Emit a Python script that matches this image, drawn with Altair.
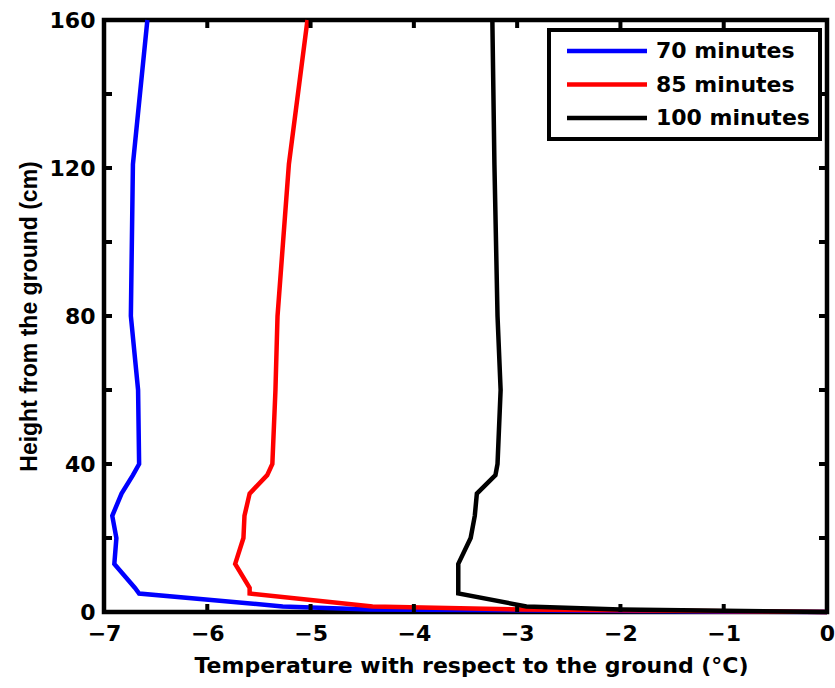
import altair as alt
import pandas as pd

# Vertical temperature profiles measured above the ground surface
heights = [0, 0.7, 1.5, 5, 6.5, 13, 20, 26, 32, 37, 40, 60, 80, 121, 160]
temp_70 = [0, -4.43, -5.27, -6.66, -6.70, -6.90, -6.88, -6.92, -6.83, -6.72, -6.66, -6.67, -6.74, -6.72, -6.58]
temp_85 = [0, -2.97, -4.40, -5.59, -5.59, -5.73, -5.65, -5.64, -5.59, -5.42, -5.37, -5.34, -5.32, -5.21, -5.03]
temp_100 = [0, -2.00, -2.91, -3.57, -3.57, -3.57, -3.45, -3.41, -3.39, -3.21, -3.19, -3.16, -3.19, -3.22, -3.24]

series_names = ["70 minutes", "85 minutes", "100 minutes"]
series_colors = ["#0000ff", "#ff0000", "#000000"]

x_ticks = [-7, -6, -5, -4, -3, -2, -1, 0]
y_ticks = [0, 20, 40, 60, 80, 100, 120, 140, 160]
y_labels = [0, 40, 80, 120, 160]

FONT = "DejaVu Sans"
FONT_V = "Liberation Sans"
FS = 22
W, H = 723, 592
TICK_LEN = 8

rows = []
for name, temps in zip(series_names, [temp_70, temp_85, temp_100]):
    for h, t in zip(heights, temps):
        rows.append({"series": name, "temp": t, "height": h})
profiles = pd.DataFrame(rows)

x_scale = alt.Scale(domain=[-7, 0], nice=False, zero=False)
y_scale = alt.Scale(domain=[0, 160], nice=False, zero=False)

x_axis = alt.Axis(
    values=x_ticks, title="Temperature with respect to the ground (°C)",
    ticks=False, tickSize=0, domain=False, grid=False, labelFlush=False,
    labelOverlap=False, labelPadding=11, titleX=367, titleY=53,
    titleBaseline="middle", titleAlign="center",
    titleFont=FONT, titleFontSize=FS,
)
y_axis = alt.Axis(
    values=y_labels, title="Height from the ground (cm)",
    ticks=False, tickSize=0, domain=False, grid=False, labelFlush=False,
    labelOverlap=False, labelPadding=9, titleX=-75, titleY=H / 2,
    titleAngle=270, titleBaseline="middle", titleAlign="center",
    titleFont=FONT_V, titleFontSize=23,
)

def xq(field="temp"):
    return alt.X(f"{field}:Q", scale=x_scale, axis=x_axis)

def yq(field="height"):
    return alt.Y(f"{field}:Q", scale=y_scale, axis=y_axis)

# legend line: custom path scaled by sqrt(size)/2, spanning 80 px from the entry start
sym_size = 256
r = (sym_size ** 0.5) / 2
entry = FS
line_start, line_len, label_gap = 8, 80, 9
sym_path = "M{:.4f},0H{:.4f}".format((line_start - entry / 2) / r, (line_start + line_len - entry / 2) / r)

lines = alt.Chart(profiles).mark_line(strokeWidth=4.5, strokeJoin="miter").encode(
    x=xq(),
    y=yq(),
    order=alt.Order("height:Q"),
    color=alt.Color(
        "series:N",
        sort=series_names,
        scale=alt.Scale(domain=series_names, range=series_colors),
        legend=alt.Legend(
            title=None, orient="none", legendX=445, legendY=10,
            symbolType=sym_path, symbolSize=sym_size, symbolStrokeWidth=4.5,
            symbolOffset=0, labelOffset=line_start + line_len + label_gap - entry,
            padding=10, rowPadding=11.5, strokeColor="black", fillColor="white",
            labelFont=FONT, labelFontSize=FS, labelFontWeight="bold", labelColor="black",
            labelBaseline="middle", labelLimit=300,
        ),
    ),
)

xt = pd.DataFrame({"temp": x_ticks})
yt = pd.DataFrame({"height": y_ticks})
tick_style = dict(color="black", strokeWidth=4)

bottom_ticks = alt.Chart(xt).mark_rule(**tick_style).encode(
    x=xq(), y=alt.value(H), y2=alt.value(H - TICK_LEN))
top_ticks = alt.Chart(xt).mark_rule(**tick_style).encode(
    x=xq(), y=alt.value(0), y2=alt.value(TICK_LEN))
left_ticks = alt.Chart(yt).mark_rule(**tick_style).encode(
    y=yq(), x=alt.value(0), x2=alt.value(TICK_LEN))
right_ticks = alt.Chart(yt).mark_rule(**tick_style).encode(
    y=yq(), x=alt.value(W), x2=alt.value(W - TICK_LEN))

chart = alt.layer(lines, bottom_ticks, top_ticks, left_ticks, right_ticks).properties(
    width=W, height=H, autosize="none",
    padding={"left": 104, "top": 20, "right": 8, "bottom": 76},
    background="white",
).configure_view(
    stroke="black", strokeWidth=4.5,
).configure_axis(
    labelFont=FONT, labelFontSize=FS, labelFontWeight="bold", labelColor="black",
    titleFontWeight="bold", titleColor="black",
).configure_legend(
    strokeWidth=4,
)

chart.save("out.html", embed_options={"renderer": "svg", "actions": False})
